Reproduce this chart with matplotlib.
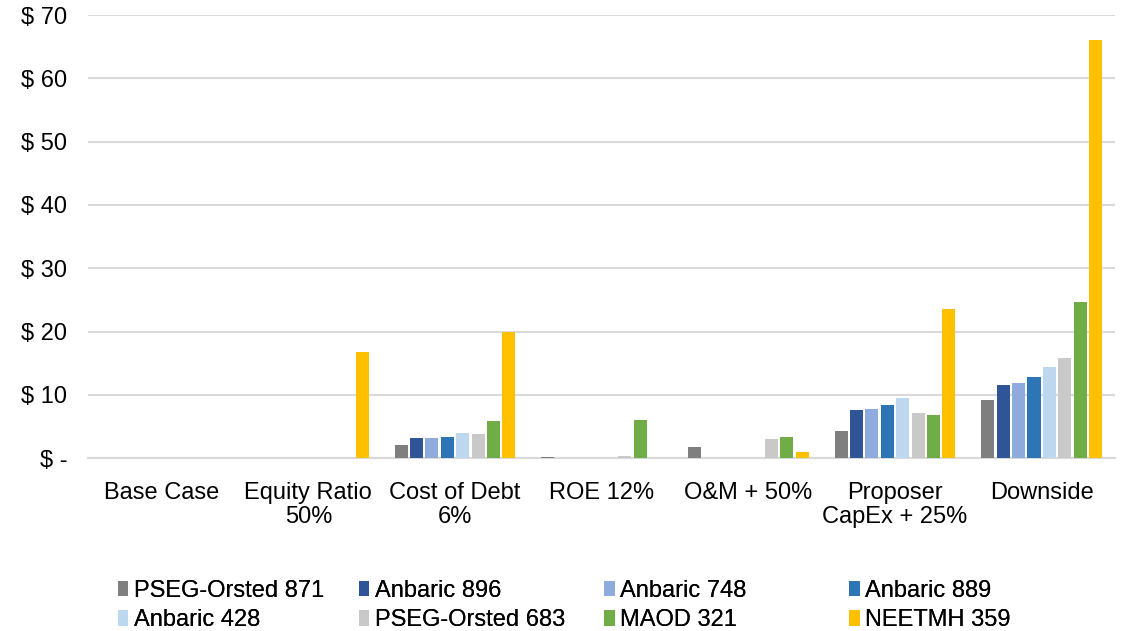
import numpy as np
import matplotlib
matplotlib.use("Agg")
import matplotlib.pyplot as plt

plt.rcParams['font.family'] = ['Liberation Sans', 'DejaVu Sans']

categories = ['Base Case', 'Equity Ratio\n50%', 'Cost of Debt\n6%', 'ROE 12%',
              'O&M + 50%', 'Proposer\nCapEx + 25%', 'Downside']

series_names = ['PSEG-Orsted 871', 'Anbaric 896', 'Anbaric 748', 'Anbaric 889',
                'Anbaric 428', 'PSEG-Orsted 683', 'MAOD 321', 'NEETMH 359']

pseg_871 = [0, 0, 2.0, 0.1, 1.7, 4.3, 9.2]
anbaric_896 = [0, 0, 3.1, 0, 0, 7.6, 11.6]
anbaric_748 = [0, 0, 3.1, 0, 0, 7.8, 11.9]
anbaric_889 = [0, 0, 3.4, 0, 0, 8.4, 12.8]
anbaric_428 = [0, 0, 3.9, 0, 0, 9.5, 14.4]
pseg_683 = [0, 0, 3.75, 0.4, 3.0, 7.2, 15.8]
maod_321 = [0, 0, 5.8, 6.1, 3.3, 6.8, 24.7]
neetmh_359 = [0, 16.8, 20.0, 0, 0.9, 23.6, 66.1]

yticks = [0, 10, 20, 30, 40, 50, 60, 70]
ytick_labels = ['$ -', '$ 10', '$ 20', '$ 30', '$ 40', '$ 50', '$ 60', '$ 70']

colors = ['#7f7f7f', '#2f5597', '#8faadc', '#2e75b6',
          '#bdd7ee', '#c9c9c9', '#70ad47', '#ffc000']

data = [pseg_871, anbaric_896, anbaric_748, anbaric_889,
        anbaric_428, pseg_683, maod_321, neetmh_359]

fs = 17

fig = plt.figure(figsize=(11.32, 6.31), dpi=100)
ax = fig.add_axes([0.078, 0.274, 0.907, 0.702])

x = np.arange(len(categories))
step = 0.105
width = 0.089
handles = []
for i, (vals, c) in enumerate(zip(data, colors)):
    off = (i - 3.5) * step
    b = ax.bar(x + off, vals, width, color=c, label=series_names[i], zorder=3)
    handles.append(b)

ax.set_xlim(-0.5, len(categories) - 0.5)
ax.set_ylim(0, 70)
ax.set_yticks(yticks)
ax.set_yticklabels(ytick_labels, fontsize=fs)
ax.set_xticks(x)
ax.set_xticklabels(categories, fontsize=fs, linespacing=1.15)
ax.tick_params(axis='both', length=0, colors='black')
ax.tick_params(axis='x', pad=17)
ax.tick_params(axis='y', pad=15)
ax.grid(axis='y', color='#d9d9d9', linewidth=1.5, zorder=0)
ax.set_axisbelow(True)
for s in ['top', 'right', 'left']:
    ax.spines[s].set_visible(False)
ax.spines['bottom'].set_color('#d9d9d9')
ax.spines['bottom'].set_linewidth(1.5)

# legend: 4 evenly spaced columns, filled row by row
col_x = [0.104, 0.317, 0.534, 0.750]
for j in range(4):
    leg = fig.legend(handles=[handles[j], handles[j + 4]],
                     labels=[series_names[j], series_names[j + 4]],
                     loc='upper left', bbox_to_anchor=(col_x[j], 0.081),
                     frameon=False, fontsize=fs, handlelength=0.45, handleheight=0.65,
                     handletextpad=0.22, labelspacing=0.32, borderpad=0, borderaxespad=0)
    fig.add_artist(leg)

fig.savefig('out.png', dpi=100)
